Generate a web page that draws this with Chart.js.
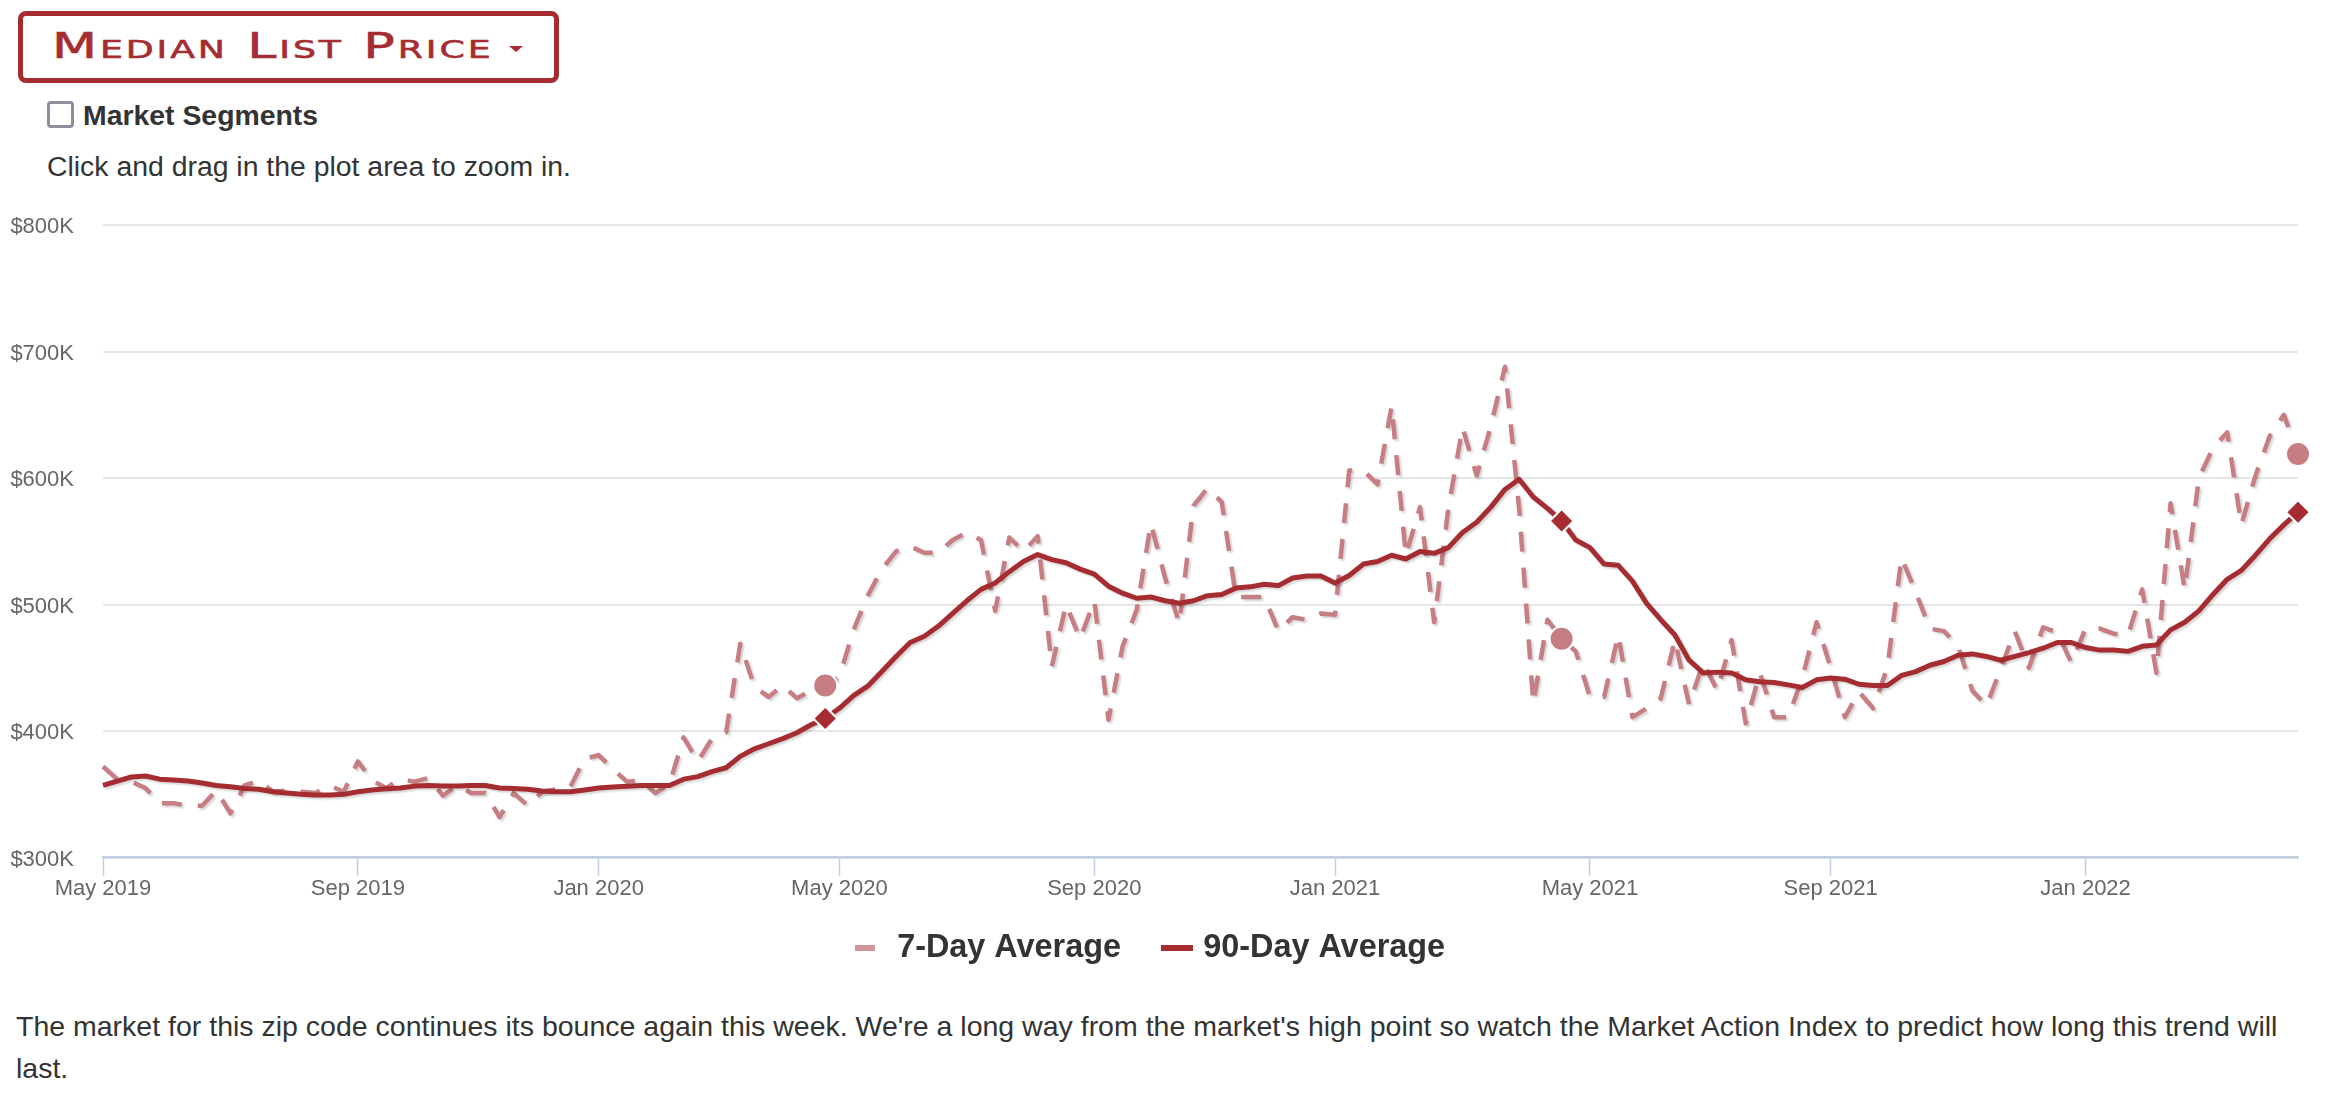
<!DOCTYPE html>
<html>
<head>
<meta charset="utf-8">
<script src="https://cdn.jsdelivr.net/npm/chart.js@4"></script>
<style>
html,body{margin:0;padding:0;background:#fff;width:2326px;height:1112px;overflow:hidden}
body{position:relative;font-family:"Liberation Sans",Arial,sans-serif;color:#333}
.abs{position:absolute;white-space:nowrap}
#btn{left:18px;top:11px;width:531px;height:62px;border:5px solid #a52d32;border-radius:8px;box-sizing:content-box}
#btnText{left:52px;top:21px;font:400 36px/50px "DejaVu Sans",sans-serif;font-variant:small-caps;color:#a52d32;letter-spacing:2px;-webkit-text-stroke:0.6px #a52d32;transform:scaleX(1.45);transform-origin:left center}
#caret{left:509px;top:46px;width:0;height:0;border-left:7px solid transparent;border-right:7px solid transparent;border-top:6px solid #a52d32}
#cb{left:47px;top:101px;width:21px;height:21px;border:3.5px solid #8e8e9e;border-radius:4px}
#seg{left:83px;top:99px;font:700 28.4px/32px "Liberation Sans",sans-serif;color:#333}
#hint{left:47px;top:150px;font:400 28.4px/32px "Liberation Sans",sans-serif;color:#333}
#wrap{left:0;top:200px;width:2326px;height:774px}
#note{position:absolute;left:16px;top:1005px;width:2285px;font:400 28.5px/42px "Liberation Sans",sans-serif;color:#333;margin:0}
</style>
</head>
<body>
<div id="btn" class="abs"></div>
<div id="btnText" class="abs">Median List Price</div>
<div id="caret" class="abs"></div>
<div id="cb" class="abs"></div>
<div id="seg" class="abs">Market Segments</div>
<div id="hint" class="abs">Click and drag in the plot area to zoom in.</div>
<div id="wrap" class="abs"><canvas id="c" width="2326" height="774"></canvas></div>
<p id="note">The market for this zip code continues its bounce again this week. We're a long way from the market's high point so watch the Market Action Index to predict how long this trend will last.</p>
<script>
const tickWeeks = [0,18,35,52,70,87,105,122,140];
const tickLabels = ['May 2019','Sep 2019','Jan 2020','May 2020','Sep 2020','Jan 2021','May 2021','Sep 2021','Jan 2022'];
const seriesNames = ['7-Day Average','90-Day Average'];
const markerWeeks = [51,103,155];
const avg7 = [
372,362,360,355,343,343,341,341,353,335,
357,361,352,353,352,351,357,352,376,361,
355,362,360,363,349,357,351,351,332,351,
341,352,354,356,378,381,370,360,361,351,
358,395,376,394,399,469,435,427,436,426,
432,436,443,480,507,528,542,546,541,541,
551,557,551,495,553,542,554,451,500,473,
503,409,467,496,564,521,485,578,592,581,
506,506,506,479,490,488,493,492,606,606,
595,657,539,577,486,576,640,602,641,688,
576,422,488,473,463,427,427,476,411,418,
426,472,421,454,432,472,406,446,411,411,
442,486,450,411,431,418,450,537,510,481,
479,467,432,420,449,479,450,482,478,454,
481,481,477,476,512,446,580,512,600,624,
636,563,602,633,650,619];
const avg90 = [
357,360.5,363.7,364.5,362,361.3,360.5,359,357,356,
354.7,354,352,351,350,349.5,349.5,350,352,353.5,
354.5,355,356.5,357,356.5,356.5,357,357,355,354.7,
354,352.6,352,352,353.4,355,355.8,356.3,357,357,
357,362,364,368,371,380,386,390,394,398.7,
405,410,418,428,435.5,447,459,470,475,483,
493,503,512,517,526,534,539.5,535.5,533,528,
524,514.5,509,505,506,503,501,503,507,508,
513,514,516,515,521,522.5,522.5,517,523,532,
534,539,536,542,540.5,545,557,565,577,591,
599,585,576,566,551,545,532,531,518.5,501,
488,476,456,446,446.6,446,440.5,439,438.4,436.5,
434.4,440.5,442,441,437,436,436,444,447,452,
455,460,461,459,456,459,462,465.5,470,470,
466,464,464,463,467,468,480,486,495,508,
520,527,539,552,563,573];

const RED = '#a52d32', PINK = '#c67e83';
const categories = avg7.map((_, i) => {
  const k = tickWeeks.indexOf(i);
  return k >= 0 ? tickLabels[k] : '';
});
const only = arr => arr.map((v, i) => markerWeeks.includes(i) ? v : null);

function swatch(color, len) {
  const c = document.createElement('canvas');
  c.width = 32; c.height = 6;
  const g = c.getContext('2d');
  g.fillStyle = color;
  g.fillRect(0, 0, len, 6);
  return c;
}
const swatches = [swatch('#d2959a', 20), swatch(RED, 32)];

const shadowPlugin = {
  id: 'lineShadow',
  beforeDatasetDraw(chart, args) {
    if (args.index > 1) return;
    const g = chart.ctx;
    g.save();
    g.shadowColor = 'rgba(0,0,0,0.16)';
    g.shadowBlur = 2;
    g.shadowOffsetX = 2;
    g.shadowOffsetY = 2;
  },
  afterDatasetDraw(chart, args) {
    if (args.index > 1) return;
    chart.ctx.restore();
  }
};

new Chart(document.getElementById('c'), {
  type: 'line',
  plugins: [shadowPlugin],
  data: {
    labels: categories,
    datasets: [
      {label: seriesNames[0], data: avg7, borderColor: PINK, borderWidth: 4.5, borderDash: [20,16],
       tension: 0, pointRadius: 0, clip: false, order: 4, borderJoinStyle: 'round'},
      {label: seriesNames[1], data: avg90, borderColor: RED, borderWidth: 5,
       tension: 0, pointRadius: 0, clip: false, order: 3, borderJoinStyle: 'round'},
      {label: 'm7', data: only(avg7), showLine: false, pointStyle: 'circle', pointRadius: 12,
       pointBackgroundColor: PINK, pointBorderColor: '#fff', pointBorderWidth: 2, clip: false, order: 2},
      {label: 'm90', data: only(avg90), showLine: false, pointStyle: 'rectRot', pointRadius: 12,
       pointBackgroundColor: RED, pointBorderColor: '#fff', pointBorderWidth: 2, clip: false, order: 1}
    ]
  },
  options: {
    responsive: false,
    animation: false,
    events: [],
    layout: {padding: {top: 25, right: 28, bottom: 0, left: 8}},
    scales: {
      x: {
        type: 'category',
        offset: false,
        border: {color: '#c0d0e0', width: 2.5},
        grid: {display: true, drawOnChartArea: false, drawTicks: true, tickLength: 18, tickColor: '#c0d0e0', tickWidth: 1.5, color: '#c0d0e0'},
        ticks: {autoSkip: false, maxRotation: 0, minRotation: 0, padding: 0, color: '#666',
                font: {family: '"Liberation Sans"', size: 22},
                callback(v) { return this.getLabelForValue(v); }},
        afterBuildTicks(s) {
          s.ticks = s.ticks.filter(t => tickWeeks.includes(t.value));
          s._computeLabelArea = () => undefined;
        },
        afterFit(s) { s.height = 28; s.paddingTop = 0; s.paddingBottom = 0; }
      },
      y: {
        min: 300, max: 800,
        border: {display: false},
        grid: {color: '#e6e6e6', lineWidth: 2, drawTicks: false},
        ticks: {stepSize: 100, padding: 29, labelOffset: 2, color: '#666',
                font: {family: '"Liberation Sans"', size: 22},
                callback: v => '$' + v + 'K'},
        afterFit(s) { s.width = 95; s.paddingTop = 0; s.paddingBottom = 0; }
      }
    },
    plugins: {
      tooltip: {enabled: false},
      legend: {
        position: 'bottom',
        labels: {
          usePointStyle: true,
          pointStyleWidth: 20,
          padding: 46,
          color: '#333',
          font: {family: '"Liberation Sans"', size: 32.4, weight: '700'},
          filter: item => item.datasetIndex < 2,
          sort: (a, b) => a.datasetIndex - b.datasetIndex,
          generateLabels(chart) {
            return Chart.defaults.plugins.legend.labels.generateLabels(chart)
              .map(it => it.datasetIndex < 2 ? Object.assign(it, {pointStyle: swatches[it.datasetIndex]}) : it);
          }
        }
      }
    }
  }
});
</script>
</body>
</html>
